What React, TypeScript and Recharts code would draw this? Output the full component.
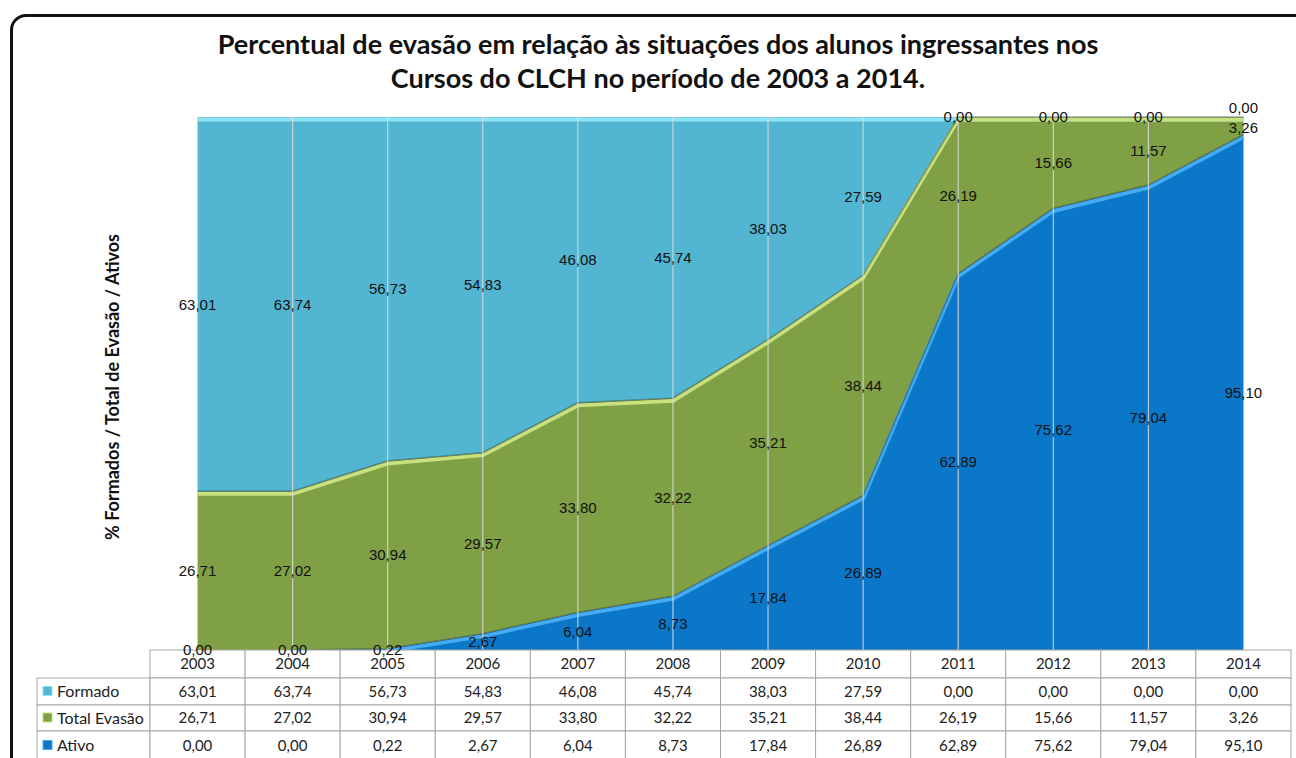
import React from 'react';
import { ComposedChart, Area, Line, XAxis, YAxis, ReferenceLine, LabelList } from 'recharts';

const years = ['2003', '2004', '2005', '2006', '2007', '2008', '2009', '2010', '2011', '2012', '2013', '2014'];
const formado = [63.01, 63.74, 56.73, 54.83, 46.08, 45.74, 38.03, 27.59, 0.0, 0.0, 0.0, 0.0];
const evasao = [26.71, 27.02, 30.94, 29.57, 33.8, 32.22, 35.21, 38.44, 26.19, 15.66, 11.57, 3.26];
const ativo = [0.0, 0.0, 0.22, 2.67, 6.04, 8.73, 17.84, 26.89, 62.89, 75.62, 79.04, 95.1];

const seriesNames = ['Formado', 'Total Evasão', 'Ativo'];
const seriesColors = ['#52B6D3', '#80A046', '#0A77C9'];
const edgeColors = ['#8FE3F3', '#C8E07E', '#45ABF3'];

// band mid-points (for labels) and band tops (for the bevel edges), as fraction of the column total
const data = years.map((year, i) => {
  const total = formado[i] + evasao[i] + ativo[i];
  return {
    year,
    formado: formado[i],
    evasao: evasao[i],
    ativo: ativo[i],
    ativoMid: ativo[i] / 2 / total,
    evasaoMid: (ativo[i] + evasao[i] / 2) / total,
    formadoMid: (ativo[i] + evasao[i] + formado[i] / 2) / total,
    ativoTop: ativo[i] > 0 || (ativo[i + 1] ?? 0) > 0 ? ativo[i] / total : null,
    evasaoTop: (ativo[i] + evasao[i]) / total,
    formadoTop: 1,
  };
});

const fmt = (v: number) => v.toFixed(2).replace('.', ',');

const COL_W = 95.1;
const ROW_Y = [650, 678, 705, 731, 760];
const tableFont = 'Lato, "Noto Sans", sans-serif';
const grid = '#A6A6A6';

function TableColumn(props: any) {
  const { x, index } = props;
  const left = x - COL_W / 2;
  const cells = [years[index], fmt(formado[index]), fmt(evasao[index]), fmt(ativo[index])];
  return (
    <g>
      {index === 0 && (
        <g>
          {seriesNames.map((name, r) => (
            <g key={name}>
              <rect x={37} y={ROW_Y[r + 1]} width={left - 37} height={ROW_Y[r + 2] - ROW_Y[r + 1]} fill="#fff" stroke={grid} />
              <rect x={43} y={(ROW_Y[r + 1] + ROW_Y[r + 2]) / 2 - 5} width={9} height={9} fill={seriesColors[r]} stroke={edgeColors[r]} strokeWidth={1} />
              <text x={57} y={(ROW_Y[r + 1] + ROW_Y[r + 2]) / 2} dy="0.36em" fontSize={16} fontFamily={tableFont} fill="#222">
                {name}
              </text>
            </g>
          ))}
        </g>
      )}
      {cells.map((c, r) => (
        <g key={r}>
          <rect x={left} y={ROW_Y[r]} width={COL_W} height={ROW_Y[r + 1] - ROW_Y[r]} fill="#fff" stroke={grid} />
          <text
            x={x}
            y={(ROW_Y[r] + ROW_Y[r + 1]) / 2}
            dy="0.36em"
            textAnchor="middle"
            fontSize={15}
            fontFamily={tableFont}
            fill="#222"
          >
            {c}
          </text>
        </g>
      ))}
    </g>
  );
}

// series: 0 formado, 1 evasao, 2 ativo; nudge the empty top label off a thin band below it, as Excel does
function bandLabel(values: number[], series: number) {
  return (p: any) => {
    const i = p.index;
    const total = formado[i] + evasao[i] + ativo[i];
    const thin = evasao[i] / total < 0.05 && formado[i] === 0;
    let shift = 0;
    if (thin && series === 0) shift = -9;
    if (thin && series === 1) shift = 2;
    return (
      <text
        x={p.x}
        y={p.y + shift}
        dy="0.36em"
        textAnchor="middle"
        fontSize={15}
        fontFamily='"Liberation Sans", Arial, sans-serif'
        fill="#111"
      >
        {fmt(values[i])}
      </text>
    );
  };
}

export default function App() {
  return (
    <div style={{ position: 'absolute', left: 0, top: 0, width: 1296, height: 758, overflow: 'hidden', background: '#fff' }}>
      <div
        style={{
          position: 'absolute',
          left: 10,
          top: 14,
          width: 1310,
          height: 770,
          border: '3px solid #111',
          borderRadius: 16,
          boxSizing: 'border-box',
        }}
      />
      <div
        style={{
          position: 'absolute',
          left: 0,
          width: 1316,
          top: 27,
          textAlign: 'center',
          fontFamily: 'Lato, sans-serif',
          fontWeight: 700,
          fontSize: 27,
          lineHeight: '34px',
          color: '#111',
        }}
      >
        Percentual de evasão em relação às situações dos alunos ingressantes nos
        <br />
        Cursos do CLCH no período de 2003 a 2014.
      </div>
      <div
        style={{
          position: 'absolute',
          left: 112,
          top: 387,
          transform: 'translate(-50%, -50%) rotate(-90deg)',
          whiteSpace: 'nowrap',
          fontFamily: 'Lato, sans-serif',
          fontWeight: 700,
          fontSize: 18,
          color: '#111',
        }}
      >
        % Formados / Total de Evasão / Ativos
      </div>
      <div style={{ position: 'absolute', left: 0, top: 0 }}>
        <ComposedChart
          width={1296}
          height={758}
          data={data}
          stackOffset="expand"
          margin={{ top: 117, right: 5, bottom: 0, left: 150 }}
        >
          <XAxis
            dataKey="year"
            height={108}
            interval={0}
            axisLine={false}
            tickLine={false}
            tickSize={0}
            tickMargin={0}
            padding={{ left: COL_W / 2, right: COL_W / 2 }}
            tick={<TableColumn />}
          />
          <YAxis yAxisId="stack" hide />
          <YAxis yAxisId="mid" hide domain={[0, 1]} />
          <Area yAxisId="stack" type="linear" dataKey="ativo" stackId="s" fill={seriesColors[2]} fillOpacity={1} stroke="none" isAnimationActive={false} />
          <Area yAxisId="stack" type="linear" dataKey="evasao" stackId="s" fill={seriesColors[1]} fillOpacity={1} stroke="none" isAnimationActive={false} />
          <Area yAxisId="stack" type="linear" dataKey="formado" stackId="s" fill={seriesColors[0]} fillOpacity={1} stroke="none" isAnimationActive={false} />
          {[
            { key: 'formadoTop', color: edgeColors[0], shade: false },
            { key: 'evasaoTop', color: edgeColors[1], shade: true },
            { key: 'ativoTop', color: edgeColors[2], shade: true },
          ].map((s) => [
            <Line
              key={s.key + 'l'}
              yAxisId="mid"
              type="linear"
              dataKey={s.key}
              stroke={s.color}
              strokeWidth={4}
              transform="translate(0,2.5)"
              dot={false}
              activeDot={false}
              isAnimationActive={false}
            />,
            s.shade ? (
              <Line
                key={s.key + 'd'}
                yAxisId="mid"
                type="linear"
                dataKey={s.key}
                stroke="rgba(35,55,40,0.45)"
                strokeWidth={1.5}
                dot={false}
                activeDot={false}
                isAnimationActive={false}
              />
            ) : null,
          ])}
          {years.slice(1, -1).map((y) => (
            <ReferenceLine key={y} yAxisId="stack" x={y} stroke="#DADADA" strokeWidth={1} />
          ))}
          {[
            { key: 'formadoMid', vals: formado, s: 0 },
            { key: 'evasaoMid', vals: evasao, s: 1 },
            { key: 'ativoMid', vals: ativo, s: 2 },
          ].map((s) => (
            <Line
              key={s.key}
              yAxisId="mid"
              dataKey={s.key}
              stroke="none"
              dot={false}
              activeDot={false}
              isAnimationActive={false}
            >
              <LabelList dataKey={s.key} content={bandLabel(s.vals, s.s)} />
            </Line>
          ))}
        </ComposedChart>
      </div>
    </div>
  );
}
